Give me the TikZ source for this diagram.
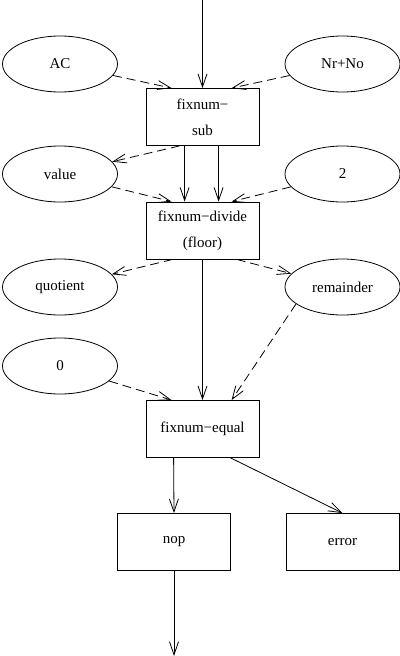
\documentclass[tikz,border=0pt]{standalone}
\usepackage{fontspec}
\setmainfont{Liberation Serif}
\usetikzlibrary{arrows.meta,calc,shapes.geometric}
\begin{document}
\begin{tikzpicture}[x=1pt,y=-1pt,
  every node/.style={font=\fontsize{15}{26}\selectfont, inner sep=0pt},
  op/.style={draw, rectangle, minimum width=113pt, minimum height=57pt, align=center, line width=0.8pt},
  val/.style={draw, ellipse, minimum width=115pt, minimum height=56pt, line width=0.8pt},
  flow/.style={-{Straight Barb[length=13pt,width=9pt]}, line width=0.8pt},
  data/.style={flow, dash pattern=on 9pt off 5pt}]
\useasboundingbox (0,0) rectangle (399,656);

% operations
\node[op] (sub) at (202.5,117) {fixnum\textminus\\sub};
\node[op] (div) at (202.5,230.5) {fixnum\textminus divide\\(floor)};
\node[op] (eq)  at (202.5,429) {fixnum\textminus equal};
\node[op] (nop) at (174,542) {nop};
\node[op] (err) at (342.5,542) {error};

% values
\node[val] (ac)   at (60,64)    {AC};
\node[val] (nrno) at (342.5,64) {Nr+No};
\node[val] (value) at (60,174)  {value};
\node[val] (two)  at (342.5,174) {2};
\node[val] (quot) at (60,287)   {quotient};
\node[val] (rem)  at (342.5,287) {remainder};
\node[val] (zero) at (60,366)   {0};

\coordinate (in)  at (202.5,0);
\coordinate (out) at (174,656);

% control flow
\draw[flow] (in) -- (sub.north);
\draw[flow] ($(sub.south west)+(39,0)$) -- ($(div.north west)+(39,0)$);
\draw[flow] ($(sub.south west)+(73,0)$) -- ($(div.north west)+(73,0)$);
\draw[flow] (div.south) -- (eq.north);
\draw[flow] ($(eq.south west)+(28,0)$) -- (nop.north);
\draw[flow] ($(eq.south west)+(85,0)$) -- (err.north);
\draw[flow] (nop.south) -- (out);

% data flow
\draw[data] (ac) -- ($(sub.north west)+(26,0)$);
\draw[data] (nrno) -- ($(sub.north west)+(86,0)$);
\draw[data] ($(sub.south west)+(34,0)$) -- (value);
\draw[data] (value) -- ($(div.north west)+(26,0)$);
\draw[data] (two) -- ($(div.north west)+(86,0)$);
\draw[data] ($(div.south west)+(27,0)$) -- (quot);
\draw[data] ($(div.south west)+(91,0)$) -- (rem);
\draw[data] (zero) -- ($(eq.north west)+(26,0)$);
\draw[data] (rem.200) -- ($(eq.north west)+(86,0)$);
\end{tikzpicture}
\end{document}
